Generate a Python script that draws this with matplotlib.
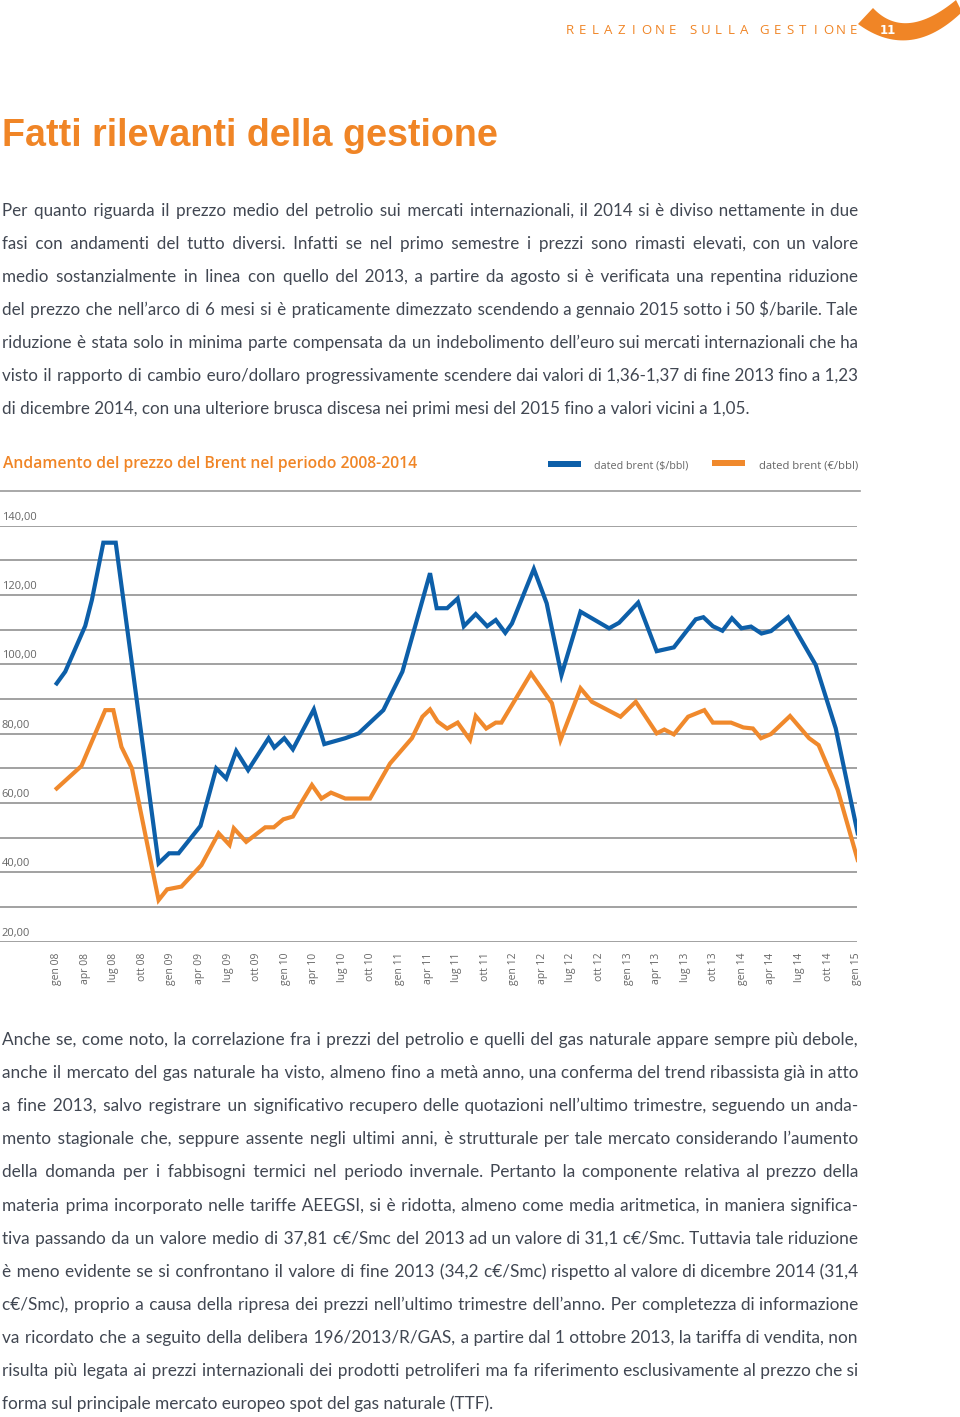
import numpy as np
import matplotlib
matplotlib.use('Agg')
import matplotlib.pyplot as plt
from matplotlib import transforms
from matplotlib.patches import Polygon

# Brent monthly series, gen 08 = month 0 (vertices)
usd_months = [0, 0.9, 3.0, 3.7, 4.9, 6.2, 10.7, 11.8, 12.8, 15.1, 16.75, 17.8, 18.85,
              20.1, 22.25, 22.85, 23.9, 24.8, 27.0, 28.1, 30.3, 31.7, 34.3, 36.3, 39.2,
              39.9, 41.0, 42.1, 42.75, 44.0, 45.2, 46.1, 47.1, 47.8, 50.1, 51.45, 53.0,
              55.0, 58.0, 59.05, 61.05, 63.0, 64.8, 67.1, 67.9, 68.9, 69.9, 70.9, 71.9,
              72.9, 74.0, 75.0, 76.8, 79.7, 81.8, 84.1]
usd_values = [94.5, 97.9, 111.1, 118.6, 135.1, 135.1, 42.6, 45.5, 45.5, 53.4, 70.0, 67.1, 75.0,
              69.5, 78.7, 76.0, 78.7, 75.5, 87.0, 77.0, 78.7, 80.1, 86.8, 97.9, 126.3,
              116.2, 116.2, 119.0, 111.0, 114.5, 111.0, 112.8, 109.1, 111.8, 127.5, 117.6, 96.9,
              115.2, 110.4, 112.0, 117.8, 103.8, 104.9, 113.0, 113.6, 111.0, 109.7, 113.3, 110.4,
              110.9, 108.9, 109.6, 113.6, 99.8, 81.5, 51.3]

eur_months = [0, 2.6, 5.1, 5.95, 6.8, 7.9, 10.7, 11.6, 13.1, 15.2, 17.0, 18.15, 18.6,
              19.9, 21.9, 22.8, 23.8, 24.8, 26.8, 27.8, 28.8, 30.3, 32.9, 35.0, 37.3,
              38.4, 39.2, 40.0, 41.0, 42.1, 43.4, 44.0, 45.1, 46.1, 46.7, 49.8, 52.0,
              52.9, 55.0, 56.2, 59.2, 60.8, 63.0, 63.8, 64.8, 66.3, 68.0, 68.9, 70.8,
              72.1, 73.1, 73.95, 75.0, 77.0, 79.0, 80.0, 82.0, 84.1]
eur_values = [64.2, 70.7, 86.8, 86.8, 76.2, 70.0, 32.0, 35.1, 35.9, 42.1, 51.3, 47.9, 52.7,
              48.8, 53.0, 53.0, 55.3, 56.1, 65.2, 61.3, 63.0, 61.3, 61.3, 71.4, 78.7,
              84.9, 87.0, 83.5, 81.5, 83.2, 78.2, 85.1, 81.5, 83.2, 83.2, 97.4, 88.8,
              78.2, 93.1, 89.2, 84.9, 89.2, 80.1, 81.2, 79.8, 84.9, 86.8, 83.2, 83.2,
              81.8, 81.5, 78.7, 79.9, 85.1, 78.7, 76.7, 63.8, 43.6]

tick_months = list(range(0, 85, 3))
tick_labels = [f"{m} {y:02d}" for y in range(8, 15) for m in ['gen', 'apr', 'lug', 'ott']] + ['gen 15']
y_grid = list(range(20, 150, 10))
y_labels = list(range(20, 150, 20))

para1 = [
    "Per quanto riguarda il prezzo medio del petrolio sui mercati internazionali, il 2014 si è diviso nettamente in due",
    "fasi con andamenti del tutto diversi. Infatti se nel primo semestre i prezzi sono rimasti elevati, con un valore",
    "medio sostanzialmente in linea con quello del 2013, a partire da agosto si è verificata una repentina riduzione",
    "del prezzo che nell’arco di 6 mesi si è praticamente dimezzato scendendo a gennaio 2015 sotto i 50 $/barile. Tale",
    "riduzione è stata solo in minima parte compensata da un indebolimento dell’euro sui mercati internazionali che ha",
    "visto il rapporto di cambio euro/dollaro progressivamente scendere dai valori di 1,36-1,37 di fine 2013 fino a 1,23",
    "di dicembre 2014, con una ulteriore brusca discesa nei primi mesi del 2015 fino a valori vicini a 1,05.",
]
para2 = [
    "Anche se, come noto, la correlazione fra i prezzi del petrolio e quelli del gas naturale appare sempre più debole,",
    "anche il mercato del gas naturale ha visto, almeno fino a metà anno, una conferma del trend ribassista già in atto",
    "a fine 2013, salvo registrare un significativo recupero delle quotazioni nell’ultimo trimestre, seguendo un anda-",
    "mento stagionale che, seppure assente negli ultimi anni, è strutturale per tale mercato considerando l’aumento",
    "della domanda per i fabbisogni termici nel periodo invernale. Pertanto la componente relativa al prezzo della",
    "materia prima incorporato nelle tariffe AEEGSI, si è ridotta, almeno come media aritmetica, in maniera significa-",
    "tiva passando da un valore medio di 37,81 c€/Smc del 2013 ad un valore di 31,1 c€/Smc. Tuttavia tale riduzione",
    "è meno evidente se si confrontano il valore di fine 2013 (34,2 c€/Smc) rispetto al valore di dicembre 2014 (31,4",
    "c€/Smc), proprio a causa della ripresa dei prezzi nell’ultimo trimestre dell’anno. Per completezza di informazione",
    "va ricordato che a seguito della delibera 196/2013/R/GAS, a partire dal 1 ottobre 2013, la tariffa di vendita, non",
    "risulta più legata ai prezzi internazionali dei prodotti petroliferi ma fa riferimento esclusivamente al prezzo che si",
    "forma sul principale mercato europeo spot del gas naturale (TTF).",
]

ORANGE = '#f08526'
BLUE = '#0d5fa9'
LINE_OR = '#f0892c'
TEXT = '#414752'
GRAY = '#666666'
BODY_FONT = ['Lato', 'DejaVu Sans']
SMALL_FONT = 'Open Sans'
HAIR = '\u200a'

fig = plt.figure(figsize=(9.6, 14.17), dpi=100)
page = fig.add_axes([0, 0, 1, 1])
page.set_xlim(0, 960)
page.set_ylim(1417, 0)
page.axis('off')
renderer = fig.canvas.get_renderer()


def width_of(t):
    return t.get_window_extent(renderer=renderer).width


def fit_text(x, y, s, target, size=10, **kw):
    t = page.text(x, y, s, fontsize=size, **kw)
    t.set_fontsize(size * target / width_of(t))
    return t


def paragraph(lines, y0, dy, x0=2, width=856):
    # one text per line; justified by spreading hair spaces over the word gaps
    probes = [page.text(0, 0, ln, fontsize=10, family=BODY_FONT) for ln in lines[:-1]]
    natural = [width_of(p) for p in probes]
    for p in probes:
        p.remove()
    size = 10 * 0.995 * width / max(natural)
    a = page.text(0, 0, 'xx', fontsize=size, family=BODY_FONT)
    b = page.text(0, 0, 'x' + HAIR * 20 + 'x', fontsize=size, family=BODY_FONT)
    hair_w = (width_of(b) - width_of(a)) / 20
    a.remove()
    b.remove()
    for i, line in enumerate(lines):
        t = page.text(x0, y0 + i * dy, line, fontsize=size, family=BODY_FONT, color=TEXT,
                      va='baseline')
        if i == len(lines) - 1:
            continue
        words = line.split(' ')
        n_gaps = len(words) - 1
        extra = int(round((width - width_of(t)) / hair_w))
        out = words[0]
        for k, w in enumerate(words[1:]):
            n = extra // n_gaps + (1 if k < extra % n_gaps else 0)
            out += ' ' + HAIR * n + w
        t.set_text(out)


# header
header = "RELAZIONE SULLA GESTIONE"
hx = 570
for ch in header:
    if ch == ' ':
        hx += 8
        continue
    page.text(hx, 31, ch, fontsize=9.5, color=ORANGE, ha='center', va='center', family=SMALL_FONT)
    hx += 12.75

tt = np.linspace(0, 1, 40)
def qbez(p0, p1, p2):
    p0, p1, p2 = map(np.array, (p0, p1, p2))
    return ((1 - tt)[:, None] ** 2 * p0 + 2 * ((1 - tt) * tt)[:, None] * p1 + (tt ** 2)[:, None] * p2)
upper = qbez((873, 8), (905, 42), (956, 0))
lower = qbez((962, 12), (910, 62), (858, 24))
page.add_patch(Polygon(np.vstack([upper, lower]), closed=True, color=ORANGE, lw=0))
page.text(888, 31, "11", fontsize=8.5, color='white', weight='bold', ha='center', va='center')

# title
fit_text(2, 146, "Fatti rilevanti della gestione", 498, size=24, family='Liberation Sans',
         weight='bold', color=ORANGE, va='baseline')

paragraph(para1, 216, 33)

# chart heading and legend
fit_text(3, 468, "Andamento del prezzo del Brent nel periodo 2008-2014", 417, size=12,
         family=SMALL_FONT, weight='semibold', color=ORANGE, va='baseline')
page.add_patch(plt.Rectangle((548, 461), 33, 6, color=BLUE, lw=0))
fit_text(594, 469, "dated brent ($/bbl)", 95, size=8, family=SMALL_FONT, color=GRAY, va='baseline')
page.add_patch(plt.Rectangle((712, 460), 33, 6, color=LINE_OR, lw=0))
fit_text(759, 468, "dated brent (€/bbl)", 100, size=8, family=SMALL_FONT, color=GRAY, va='baseline')
page.plot([0, 860], [491, 491], color='#9a9a9a', lw=1.2)

# chart
ax = fig.add_axes([0, 1 - 941.7 / 1417, 857 / 960, (941.7 - 525.7) / 1417])
ax.set_facecolor('none')
ax.set_xlim(-5.95, 84.03)
ax.set_ylim(20, 140)
for v in y_grid:
    ax.axhline(v, color='#9a9a9a', lw=1.3, zorder=1)
ax.plot(usd_months, usd_values, color=BLUE, lw=3.0, zorder=3, solid_joinstyle='miter')
ax.plot(eur_months, eur_values, color=LINE_OR, lw=3.0, zorder=3, solid_joinstyle='miter')
for s in ax.spines.values():
    s.set_visible(False)
ax.set_yticks([])
ax.set_xticks(tick_months)
ax.set_xticklabels(tick_labels, rotation=90, fontsize=7.5, color=GRAY, family=SMALL_FONT)
ax.tick_params(axis='x', length=0, pad=8)
lbl_tr = transforms.offset_copy(transforms.blended_transform_factory(ax.transAxes, ax.transData),
                                fig=fig, x=0, y=3, units='dots')
for v in y_labels:
    ax.text(0.002, v, f"{v},00", transform=lbl_tr, fontsize=8, color=GRAY, family=SMALL_FONT,
            va='bottom', ha='left')

paragraph(para2, 1045, 33.1)

fig.savefig('out.png', dpi=100)
